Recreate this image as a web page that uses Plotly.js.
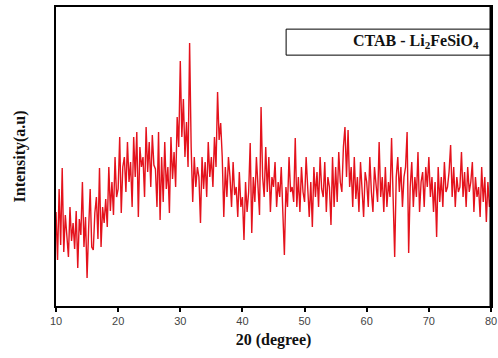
<!DOCTYPE html>
<html>
<head>
<meta charset="utf-8">
<script src="https://cdn.plot.ly/plotly-3.0.1.min.js"></script>
<style>html,body{margin:0;padding:0;background:#fff;}#chart{width:498px;height:358px;}</style>
</head>
<body>
<div id="chart"></div>
<script>
// 2-theta grid start/step (degrees)
const thetaStart = 10;
const thetaStep = 0.25;
// intensity readings (a.u., arbitrary scale) every 0.25 degree from 10 to 80
const intensity = [
  95, 47, 118, 62,   139, 55, 92, 70,   50, 100, 66, 84,   58, 96, 39, 88,
  72, 125, 60, 90,   29, 78, 118, 60,   57, 94, 110, 68,   139, 60, 100, 84,
  108, 80, 140, 96,  125, 92, 150, 110, 118, 170, 94, 140, 150, 115, 165, 125,
  145, 100, 170, 130, 175, 90, 160, 140, 150, 110, 180, 135, 165, 120, 172, 142,
  138, 100, 175, 87, 150, 105, 165, 118, 140, 94, 170, 128, 155, 120, 190, 160,
  246, 170, 208, 150, 185, 140, 264, 160, 105, 150, 120, 140, 130, 84, 150, 118,
  145, 110, 165, 130, 150, 120, 170, 140, 215, 167, 184, 150, 90, 140, 110, 150,
  130, 100, 145, 112, 120, 90, 135, 100, 110, 67, 125, 95,  115, 164, 74, 130,
  105, 150, 118, 92, 200, 130, 110, 160, 115, 150, 95, 130, 120, 145, 100, 125,
  110, 140, 95, 52,  120, 100, 150, 115, 120, 105, 169, 100, 130, 95, 140, 115,
  105, 150, 120, 90, 125, 80, 140, 110, 135, 100, 150, 118, 110, 145, 95, 130,
  120, 82, 150, 100, 140, 105, 155, 125, 115, 160, 180, 130, 177, 120, 140, 100,
  150, 108, 130, 95, 145, 112, 90, 135, 125, 100, 150, 115, 95, 140, 120, 105,
  165, 110, 130, 95, 140, 100, 125, 110, 169, 120, 50, 130, 150, 115, 140, 100,
  130, 140, 175, 54, 120, 145, 100, 130, 110, 155, 95, 125, 135, 100, 140, 120,
  150, 110, 130, 95, 125, 70, 140, 105, 130, 100, 145, 115, 120, 135, 162, 110,
  140, 100, 130, 115, 120, 155, 110, 135, 100, 140, 115, 125, 145, 95, 130, 110,
  120, 90, 140, 105, 130, 85, 125, 100, 110
];
const xTicks = [10, 20, 30, 40, 50, 60, 70, 80];
const xTickText = ['10', '20', '30', '40', '50', '60', '70', '80'];
const seriesLabel = 'CTAB - Li<sub>2</sub>FeSiO<sub>4</sub>';
const xTitle = '20 (degree)';
const yTitle = 'Intensity(a.u)';

const theta = intensity.map((_, i) => thetaStart + i * thetaStep);

const trace = {
  x: theta, y: intensity, type: 'scatter', mode: 'lines',
  line: {color: 'rgb(228,18,28)', width: 1.4},
  hoverinfo: 'skip', showlegend: false
};

const serif = 'Liberation Serif, Times New Roman, serif';
const layout = {
  width: 498, height: 358,
  margin: {l: 56, r: 7, t: 7, b: 52},
  paper_bgcolor: '#fff', plot_bgcolor: '#fff',
  showlegend: false,
  xaxis: {
    range: [10, 80], tickmode: 'array', tickvals: xTicks, ticktext: xTickText,
    showgrid: false, zeroline: false, showline: true, mirror: true,
    linecolor: '#000', linewidth: 2, ticks: 'outside', ticklen: 4, tickwidth: 2, tickcolor: '#000',
    tickfont: {family: 'Liberation Sans, Arial, sans-serif', size: 11, color: '#444'},
    title: {text: '<b>' + xTitle + '</b>', font: {family: serif, size: 16, color: '#111'}, standoff: 8}
  },
  yaxis: {
    range: [1, 300], showticklabels: false, ticks: '', showgrid: false, zeroline: false,
    showline: true, mirror: true, linecolor: '#000', linewidth: 2,
    title: {text: '<b>' + yTitle + '</b>', font: {family: serif, size: 16, color: '#111'}, standoff: 24}
  },
  shapes: [
    {type: 'rect', xref: 'paper', yref: 'paper', x0: 0.529, x1: 1, y0: 0.839, y1: 0.926,
     line: {color: '#000', width: 1}, fillcolor: 'rgba(0,0,0,0)'},
    {type: 'line', xref: 'paper', yref: 'paper', x0: 1, x1: 1, y0: 0, y1: 1,
     line: {color: '#000', width: 3}}
  ],
  annotations: [
    {xref: 'paper', yref: 'paper', x: 0.978, y: 0.885, xanchor: 'right', yanchor: 'middle',
     showarrow: false, text: '<b>' + seriesLabel + '</b>',
     font: {family: serif, size: 16, color: '#111'}}
  ]
};

Plotly.newPlot('chart', [trace], layout, {displayModeBar: false, staticPlot: true});
</script>
</body>
</html>
